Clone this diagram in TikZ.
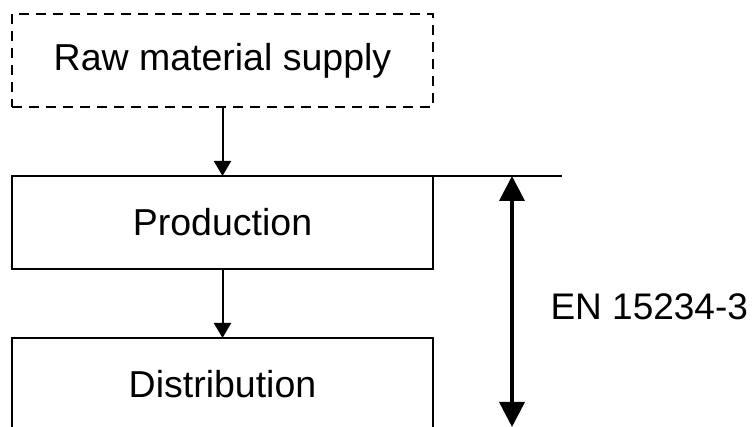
\documentclass[tikz,border=0pt]{standalone}
\usepackage{fontspec}
\setmainfont{Liberation Sans}
\usetikzlibrary{positioning,arrows.meta}

\begin{document}
\begin{tikzpicture}[x=1pt,y=1pt,
    stage/.style={draw,line width=2pt,minimum width=421pt,minimum height=93pt,
                  outer sep=0pt,inner sep=0pt,font=\fontsize{37.5}{40}\selectfont},
    flow/.style={line width=2pt,-{Triangle[length=15pt,width=17pt]}},
    span/.style={line width=3.5pt,{Triangle[length=25pt,width=25pt]}-{Triangle[length=25pt,width=25pt]}},
    node distance=69pt]
  \useasboundingbox (0,0) rectangle (752,427);
  \clip (0,0) rectangle (752,427);
  \node[stage,dashed,dash pattern=on 10pt off 7pt] (raw) at (222.5,366.5) {Raw material supply};
  \node[stage,below=of raw] (prod) {Production};
  \node[stage,below=of prod] (dist) {Distribution};
  \path[flow]
    (raw) edge (prod)
    (prod) edge (dist);
  \coordinate[xshift=129pt] (top) at (prod.north east);
  \coordinate[xshift=79pt] (up) at (prod.north east);
  \coordinate (down) at (up |- 0,0);
  \draw[line width=1.4pt] (prod.north east) -- (top);
  \draw[span] (up) -- (down);
  \node[anchor=west,font=\fontsize{37}{40}\selectfont] (norm) at (547,120) {EN 15234-3};
\end{tikzpicture}
\end{document}
